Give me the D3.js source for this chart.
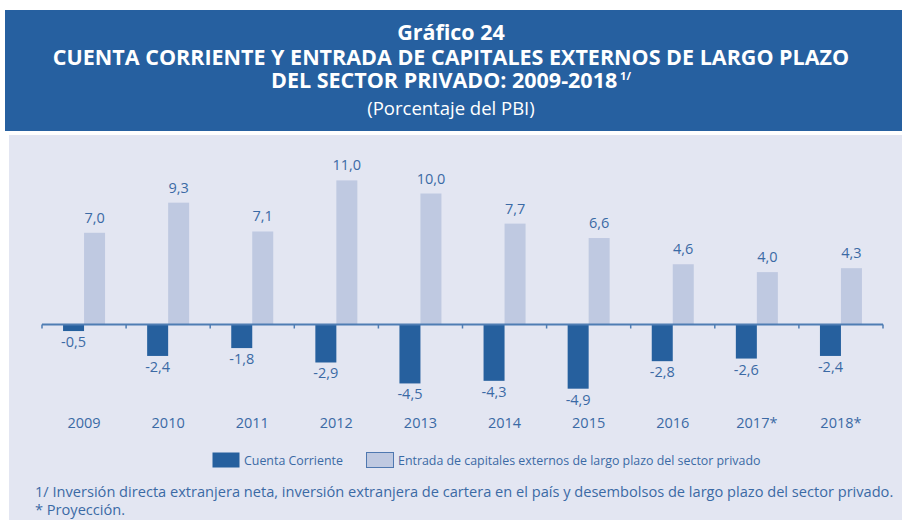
<!DOCTYPE html>
<meta charset="utf-8">
<style>
  body { margin: 0; background: #fff; }
  text { font-family: "Open Sans", "Noto Sans", sans-serif; }
</style>
<body>
<svg width="902" height="520"></svg>
<script src="https://cdn.jsdelivr.net/npm/d3@7"></script>
<script>
var years = ["2009", "2010", "2011", "2012", "2013", "2014", "2015", "2016", "2017*", "2018*"];
var cuentaCorriente = [-0.5, -2.4, -1.8, -2.9, -4.5, -4.3, -4.9, -2.8, -2.6, -2.4];
var entradaCapitales = [7.0, 9.3, 7.1, 11.0, 10.0, 7.7, 6.6, 4.6, 4.0, 4.3];
var seriesNames = ["Cuenta Corriente", "Entrada de capitales externos de largo plazo del sector privado"];
var titleLines = ["Gráfico 24", "CUENTA CORRIENTE Y ENTRADA DE CAPITALES EXTERNOS DE LARGO PLAZO", "DEL SECTOR PRIVADO: 2009-2018"];
var subtitle = "(Porcentaje del PBI)";
var notes = ["1/ Inversión directa extranjera neta, inversión extranjera de cartera en el país y desembolsos de largo plazo del sector privado.", "* Proyección."];

var dark = "#26609e", light = "#bfc9e1", txt = "#3b6aa5";
var fmt = d3.formatLocale({decimal: ",", thousands: ".", grouping: [3], currency: ["", ""], minus: "-"}).format(".1f");

var svg = d3.select("svg");

// header + panel
svg.append("rect").attr("x", 5).attr("y", 10).attr("width", 897).attr("height", 121).attr("fill", "#2660a0");
svg.append("rect").attr("x", 9).attr("y", 135).attr("width", 893).attr("height", 385).attr("fill", "#e3e6f2");

var titleY = [40, 65, 88];
svg.selectAll(".title").data(titleLines).enter().append("text")
    .attr("x", 451).attr("y", function(d, i) { return titleY[i]; })
    .attr("text-anchor", "middle").attr("fill", "#fff")
    .attr("font-size", 21.5).attr("font-weight", "bold")
    .text(function(d) { return d; })
  .filter(function(d, i) { return i === 2; })
    .append("tspan").attr("font-size", 11).attr("dy", -8).text(" 1/");

svg.append("text").attr("x", 451).attr("y", 115).attr("text-anchor", "middle")
    .attr("fill", "#fff").attr("font-size", 18.5).text(subtitle);

var x = d3.scaleBand().domain(years).range([42, 883]).padding(0);
var y = d3.scaleLinear().domain([-6, 12]).range([403.1, 167.3]);
var bw = 21;

var g = svg.append("g");

g.selectAll(".cc").data(cuentaCorriente).enter().append("rect")
    .attr("x", function(d, i) { return x(years[i]) + x.bandwidth() / 2 - bw; })
    .attr("y", function(d) { return y(Math.max(0, d)); })
    .attr("width", bw)
    .attr("height", function(d) { return Math.abs(y(d) - y(0)); })
    .attr("fill", dark);

g.selectAll(".en").data(entradaCapitales).enter().append("rect")
    .attr("x", function(d, i) { return x(years[i]) + x.bandwidth() / 2; })
    .attr("y", function(d) { return y(Math.max(0, d)); })
    .attr("width", bw)
    .attr("height", function(d) { return Math.abs(y(d) - y(0)); })
    .attr("fill", light);

g.selectAll(".lcc").data(cuentaCorriente).enter().append("text")
    .attr("x", function(d, i) { return x(years[i]) + x.bandwidth() / 2 - bw / 2; })
    .attr("y", function(d) { return y(d) + 16; })
    .attr("text-anchor", "middle").attr("fill", txt).attr("font-size", 14.5)
    .text(function(d) { return fmt(d); });

g.selectAll(".len").data(entradaCapitales).enter().append("text")
    .attr("x", function(d, i) { return x(years[i]) + x.bandwidth() / 2 + bw / 2; })
    .attr("y", function(d) { return y(d) - 10; })
    .attr("text-anchor", "middle").attr("fill", txt).attr("font-size", 14.5)
    .text(function(d) { return fmt(d); });

// zero axis with ticks at band edges
var ax = svg.append("g");
ax.append("line").attr("x1", 42).attr("x2", 883).attr("y1", y(0)).attr("y2", y(0))
    .attr("stroke", "#4f7db3").attr("stroke-width", 2);
ax.selectAll(".tk").data(years.concat([null])).enter().append("line")
    .attr("x1", function(d, i) { return 42 + i * x.bandwidth(); })
    .attr("x2", function(d, i) { return 42 + i * x.bandwidth(); })
    .attr("y1", y(0)).attr("y2", y(0) + 4)
    .attr("stroke", "#4f7db3").attr("stroke-width", 1.5);

svg.selectAll(".yr").data(years).enter().append("text")
    .attr("x", function(d) { return x(d) + x.bandwidth() / 2; })
    .attr("y", 428).attr("text-anchor", "middle").attr("fill", txt).attr("font-size", 14.5)
    .text(function(d) { return d; });

// legend
var leg = svg.append("g");
[[212, dark], [366, light]].forEach(function(p, i) {
  leg.append("rect").attr("x", p[0] + 0.5).attr("y", 452.5).attr("width", 27).attr("height", 15)
      .attr("fill", p[1]).attr("stroke", i ? "#4f78b0" : "none").attr("stroke-width", 1);
  leg.append("text").attr("x", p[0] + 32).attr("y", 465).attr("fill", txt)
      .attr("font-size", 12.4).text(seriesNames[i]);
});

svg.selectAll(".note").data(notes).enter().append("text")
    .attr("x", 35).attr("y", function(d, i) { return 497 + i * 18; })
    .attr("fill", txt).attr("font-size", 14.6)
    .text(function(d) { return d; });
</script>
</body>
